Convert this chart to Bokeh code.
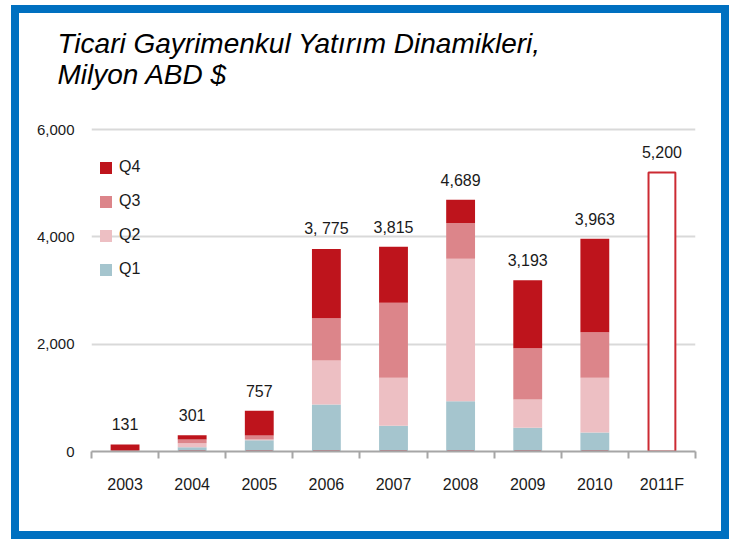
from bokeh.plotting import figure
from bokeh.models import (Range1d, FixedTicker, NumeralTickFormatter, Legend, LegendItem,
                          ColumnDataSource, Title)
from bokeh.core.properties import value
from bokeh.embed import file_html
from bokeh.resources import INLINE

years = ["2003", "2004", "2005", "2006", "2007", "2008", "2009", "2010", "2011F"]
q1 = [5, 81, 210, 876, 480, 937, 441, 354, 0]
q2 = [5, 74, 15, 820, 895, 2653, 528, 1019, 0]
q3 = [10, 69, 75, 788, 1395, 670, 956, 850, 0]
q4 = [111, 77, 457, 1291, 1045, 429, 1268, 1740, 0]
forecast = [0, 0, 0, 0, 0, 0, 0, 0, 5200]
total_labels = ["131", "301", "757", "3, 775", "3,815", "4,689", "3,193", "3,963", "5,200"]
y_ticks = [0, 2000, 4000, 6000]

FONT = "Liberation Sans"
TXT = "#1a1a1a"
colors = ["#a5c5ce", "#edbfc3", "#dc858a", "#be141c"]
quarters = ["Q1", "Q2", "Q3", "Q4"]

centers = [i + 0.5 for i in range(len(years))]
bounds = list(range(len(years) + 1))
totals = [a + b + c + d + f for a, b, c, d, f in zip(q1, q2, q3, q4, forecast)]

src = ColumnDataSource(dict(x=centers, Q1=q1, Q2=q2, Q3=q3, Q4=q4, f=forecast,
                            tot=totals, lab=total_labels))

p = figure(width=718, height=534, output_backend="svg", toolbar_location=None,
           x_range=Range1d(0, len(years)), y_range=Range1d(0, 6615),
           min_border_left=72, min_border_right=42, min_border_top=83, min_border_bottom=96)
p.styles = {"border": "8px solid #0070C0", "margin-left": "11px", "margin-top": "5px"}
p.outline_line_color = None
p.background_fill_color = "white"
p.border_fill_color = "white"

title = Title(text="Ticari Gayrimenkul Yatırım Dinamikleri,\nMilyon ABD $", align="left",
              text_font=FONT, text_font_style="italic", text_font_size="28px",
              text_color="black", offset=-34, standoff=13)
p.add_layout(title, "above")

rs = p.vbar_stack(quarters, x="x", width=0.43, source=src, color=colors, line_color=None)
p.vbar(x="x", top="f", width=0.40, source=src, fill_color="white", line_color="#cc2a32",
       line_width=2)
p.text(x="x", y="tot", text="lab", source=src, text_align="center", text_baseline="alphabetic",
       y_offset=-20, text_font=value(FONT), text_font_size="16px", text_color=TXT)

items = [LegendItem(label=q, renderers=[r]) for q, r in zip(quarters, rs)][::-1]
legend = Legend(items=items, location=(7, 173), orientation="vertical",
                glyph_width=15, glyph_height=15, label_standoff=6, spacing=16, padding=0,
                margin=0, border_line_color=None, background_fill_alpha=0,
                label_text_font=FONT, label_text_font_size="16px", label_text_color=TXT)
p.add_layout(legend)

p.xgrid.grid_line_color = None
p.ygrid.grid_line_color = "#d9d9d9"
p.ygrid.grid_line_width = 2

xa = p.xaxis[0]
xa.ticker = FixedTicker(ticks=centers, minor_ticks=bounds)
xa.major_label_overrides = {c: y for c, y in zip(centers, years)}
xa.axis_line_color = "#a6a6a6"
xa.axis_line_width = 2
xa.major_tick_line_color = None
xa.major_tick_out = 0
xa.major_tick_in = 0
xa.minor_tick_line_color = "#a6a6a6"
xa.minor_tick_line_width = 2
xa.minor_tick_out = 7
xa.minor_tick_in = 0
xa.major_label_standoff = 17
xa.major_label_text_font = FONT
xa.major_label_text_font_size = "16px"
xa.major_label_text_color = TXT

ya = p.yaxis[0]
ya.ticker = FixedTicker(ticks=y_ticks)
ya.formatter = NumeralTickFormatter(format="0,0")
ya.axis_line_color = None
ya.major_tick_line_color = None
ya.minor_tick_line_color = None
ya.major_tick_out = 0
ya.major_tick_in = 0
ya.major_label_standoff = 17
ya.major_label_text_font = FONT
ya.major_label_text_font_size = "15px"
ya.major_label_text_color = TXT
p.ygrid.ticker = FixedTicker(ticks=y_ticks)

open("out.html", "w").write(file_html(p, INLINE))
